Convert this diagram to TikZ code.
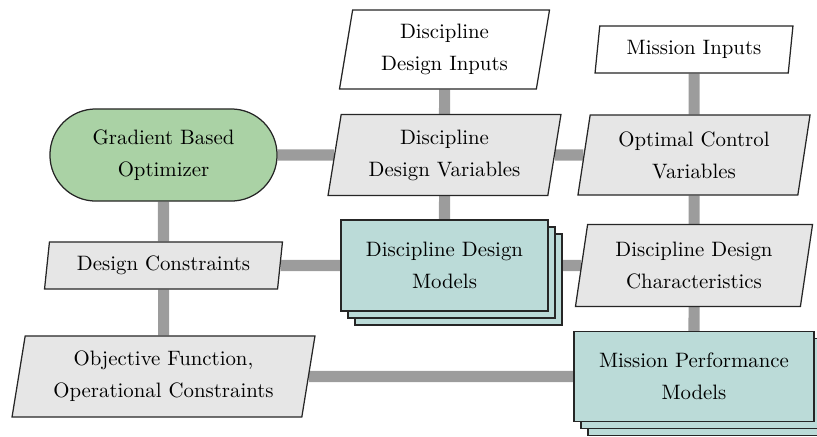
\documentclass[tikz,border=0pt]{standalone}
\usetikzlibrary{shapes.geometric,shadows,backgrounds}
\definecolor{optgreen}{RGB}{170,210,165}
\definecolor{modteal}{RGB}{187,219,216}
\definecolor{iogray}{RGB}{230,230,230}
\definecolor{linkgray}{RGB}{156,156,156}
\begin{document}
\begin{tikzpicture}[x=0.48pt,y=-0.48pt,
  base/.style={draw=black!85, line width=0.6pt, align=center,
    font=\fontsize{10}{15.4}\selectfont, inner sep=0pt},
  para/.style={base, trapezium, trapezium left angle=75.5,
    trapezium right angle=104.5, trapezium stretches body, fill=iogray},
  inbox/.style={para, fill=white},
  optbox/.style={base, rectangle, rounded corners=22pt, fill=optgreen,
    minimum width=109pt, minimum height=44.2pt},
  modbox/.style={base, rectangle, fill=modteal,
    double copy shadow={shadow xshift=3.36pt, shadow yshift=-3.36pt}},
  link/.style={line width=5.3pt, draw=linkgray}
]
\path[use as bounding box, clip] (0,0) rectangle (817,436);

\node[optbox] (opt) at (163.5,155) {Gradient Based\\Optimizer};
\node[inbox, minimum width=100.8pt, minimum height=37.9pt] (ddi) at (444.5,49.5) {Discipline\\Design Inputs};
\node[inbox, minimum width=95pt, minimum height=22.6pt] (mi) at (694,49.5) {Mission Inputs};
\node[para, minimum width=111.8pt, minimum height=38.9pt] (ddv) at (444.5,155) {Discipline\\Design Variables};
\node[para, minimum width=111.4pt, minimum height=38.4pt] (ocv) at (694,155) {Optimal Control\\Variables};
\node[para, minimum width=114.2pt, minimum height=22.6pt] (dc) at (163.5,265.5) {Design Constraints};
\node[modbox, minimum width=99.4pt, minimum height=43.7pt] (ddm) at (444.5,265.5) {Discipline Design\\Models};
\node[para, minimum width=113.8pt, minimum height=39.4pt] (ddc) at (694,265.5) {Discipline Design\\Characteristics};
\node[para, minimum width=145.4pt, minimum height=38.9pt] (of) at (163.5,376.5) {Objective Function,\\Operational Constraints};
\node[modbox, minimum width=115.2pt, minimum height=43.2pt] (mpm) at (694,376.5) {Mission Performance\\Models};

\begin{scope}[on background layer]
  \draw[link] (opt) -- (ddv);
  \draw[link] (ddv) -- (ocv);
  \draw[link] (ddi) -- (ddv);
  \draw[link] (mi) -- (ocv);
  \draw[link] (ddv) -- (ddm);
  \draw[link] (ocv) -- (ddc);
  \draw[link] (opt) -- (dc);
  \draw[link] (dc) -- (ddm);
  \draw[link] (ddm) -- (ddc);
  \draw[link] (dc) -- (of);
  \draw[link] (ddc) -- (mpm);
  \draw[link] (of) -- (mpm);
\end{scope}
\end{tikzpicture}
\end{document}
